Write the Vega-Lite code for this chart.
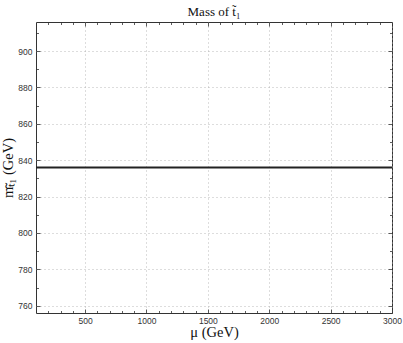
{
  "$schema": "https://vega.github.io/schema/vega-lite/v6.json",
  "width": 356,
  "height": 291,
  "autosize": {"type": "none"},
  "padding": {"left": 36, "top": 22, "right": 11, "bottom": 30},
  "background": "white",
  "config": {
    "view": {"stroke": "#333", "strokeWidth": 1},
    "axis": {"domain": false, "tickColor": "#333", "tickWidth": 0.8, "labelColor": "#333", "labelFont": "Liberation Sans", "labelFontSize": 8.5, "titleFont": "Liberation Serif", "titleFontWeight": "normal", "titleFontSize": 14.5, "titleColor": "#111", "format": "d"},
    "title": {"font": "Liberation Serif", "fontSize": 13, "fontWeight": "normal", "color": "#111"}
  },
  "title": {"text": "Mass of t̃₁", "offset": 3},
  "data": {"values": [
    {"mu": 100, "m": 836},
    {"mu": 1000, "m": 836},
    {"mu": 2000, "m": 836},
    {"mu": 3000, "m": 836}
  ]},
  "resolve": {"axis": {"x": "independent", "y": "independent"}},
  "layer": [
    {
      "mark": {"type": "line", "color": "#222", "strokeWidth": 2, "clip": true},
      "encoding": {
        "x": {"field": "mu", "type": "quantitative", "scale": {"domain": [100, 3000], "nice": false, "zero": false},
          "axis": {"orient": "bottom", "title": "μ (GeV)", "values": [500, 1000, 1500, 2000, 2500, 3000], "grid": true, "gridDash": [1, 3], "gridColor": "#aaa", "gridWidth": 0.8, "tickSize": -4, "labelPadding": 7, "titlePadding": 1, "labelFlush": false}},
        "y": {"field": "m", "type": "quantitative", "scale": {"domain": [756, 916], "nice": false, "zero": false},
          "axis": {"orient": "left", "title": "mₜ̃₁ (GeV)", "values": [760, 780, 800, 820, 840, 860, 880, 900], "grid": true, "gridDash": [1, 3], "gridColor": "#aaa", "gridWidth": 0.8, "tickSize": -4, "labelPadding": 8, "titlePadding": 2}}
      }
    },
    {
      "mark": {"type": "line", "strokeOpacity": 0},
      "encoding": {
        "x": {"field": "mu", "type": "quantitative", "axis": {"orient": "top", "title": null, "labels": false, "grid": false, "values": [500, 1000, 1500, 2000, 2500, 3000], "tickSize": -4}},
        "y": {"field": "m", "type": "quantitative", "axis": {"orient": "right", "title": null, "labels": false, "grid": false, "values": [760, 780, 800, 820, 840, 860, 880, 900], "tickSize": -4}}
      }
    },
    {
      "mark": {"type": "line", "strokeOpacity": 0},
      "encoding": {
        "x": {"field": "mu", "type": "quantitative", "axis": {"orient": "bottom", "title": null, "labels": false, "grid": false, "values": [200, 300, 400, 600, 700, 800, 900, 1100, 1200, 1300, 1400, 1600, 1700, 1800, 1900, 2100, 2200, 2300, 2400, 2600, 2700, 2800, 2900], "tickSize": -2.5}},
        "y": {"field": "m", "type": "quantitative", "axis": {"orient": "left", "title": null, "labels": false, "grid": false, "values": [770, 790, 810, 830, 850, 870, 890, 910], "tickSize": -2.5}}
      }
    },
    {
      "mark": {"type": "line", "strokeOpacity": 0},
      "encoding": {
        "x": {"field": "mu", "type": "quantitative", "axis": {"orient": "top", "title": null, "labels": false, "grid": false, "values": [200, 300, 400, 600, 700, 800, 900, 1100, 1200, 1300, 1400, 1600, 1700, 1800, 1900, 2100, 2200, 2300, 2400, 2600, 2700, 2800, 2900], "tickSize": -2.5}},
        "y": {"field": "m", "type": "quantitative", "axis": {"orient": "right", "title": null, "labels": false, "grid": false, "values": [770, 790, 810, 830, 850, 870, 890, 910], "tickSize": -2.5}}
      }
    }
  ]
}
